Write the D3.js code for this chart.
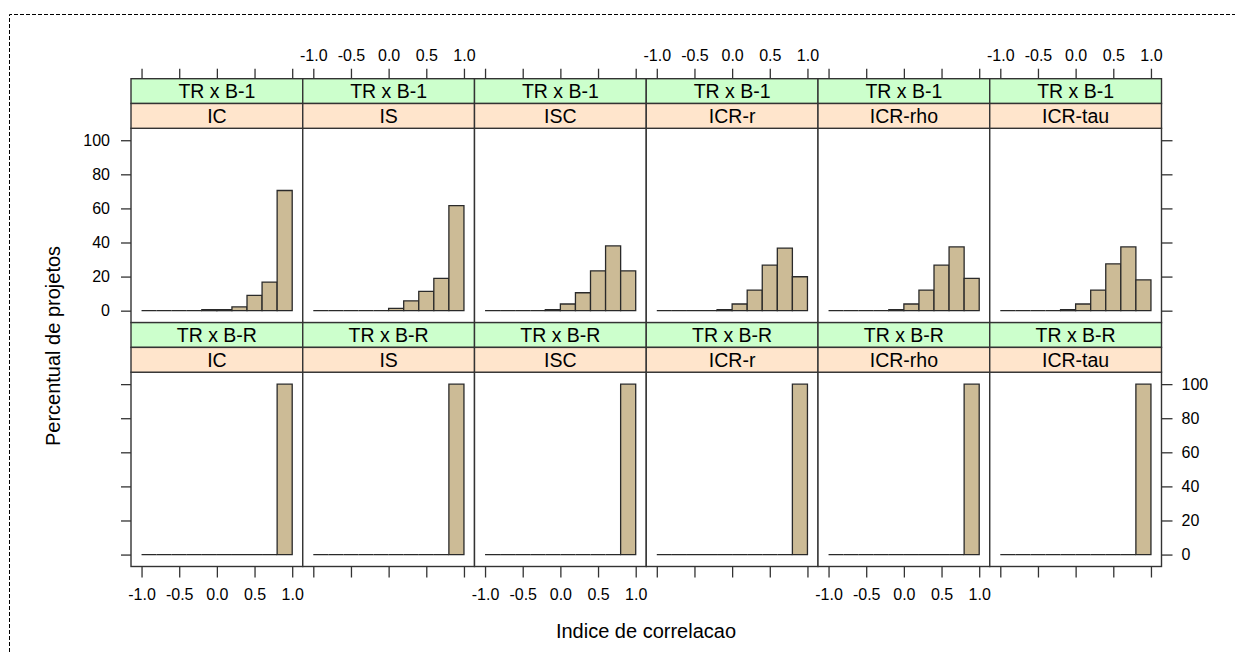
<!DOCTYPE html>
<html><head><meta charset="utf-8">
<script src="https://cdn.jsdelivr.net/npm/d3@7"></script>
<style>
body{margin:0;background:#fff;}
svg text{font-family:"Liberation Sans",Arial,sans-serif;fill:#000;}
</style>
</head><body>
<svg id="c" width="1235" height="652"></svg>
<script>
// ---------- data ----------
const breaks = [-1.0,-0.8,-0.6,-0.4,-0.2,0.0,0.2,0.4,0.6,0.8,1.0];
const comparisons = ["TR x B-1","TR x B-R"];
const indices = ["IC","IS","ISC","ICR-r","ICR-rho","ICR-tau"];
// percent of projects per bin (10 bins from -1 to 1), TR x B-1
const b1_IC     = [0,0,0,0,0.6,0.6,2.2,9.0,16.8,70.5];
const b1_IS     = [0,0,0,0,0,1.4,5.8,11.3,18.9,61.6];
const b1_ISC    = [0,0,0,0,0.6,3.9,10.5,23.4,38.0,23.4];
const b1_ICRr   = [0,0,0,0,0.6,3.9,12.1,26.7,36.7,19.9];
const b1_ICRrho = [0,0,0,0,0.6,3.9,12.1,26.7,37.4,18.9];
const b1_ICRtau = [0,0,0,0,0.6,3.9,12.1,27.5,37.4,18.1];
// TR x B-R
const bR_IC     = [0,0,0,0,0,0,0,0,0,100];
const bR_IS     = [0,0,0,0,0,0,0,0,0,100];
const bR_ISC    = [0,0,0,0,0,0,0,0,0,100];
const bR_ICRr   = [0,0,0,0,0,0,0,0,0,100];
const bR_ICRrho = [0,0,0,0,0,0,0,0,0,100];
const bR_ICRtau = [0,0,0,0,0,0,0,0,0,100];
const xTicks = [-1.0,-0.5,0.0,0.5,1.0];
const yTicks = [0,20,40,60,80,100];
const xTitle = "Indice de correlacao";
const yTitle = "Percentual de projetos";

const series = [
  [b1_IC,b1_IS,b1_ISC,b1_ICRr,b1_ICRrho,b1_ICRtau],
  [bR_IC,bR_IS,bR_ISC,bR_ICRr,bR_ICRrho,bR_ICRtau]
];

// ---------- layout ----------
const svg = d3.select("#c");
const left = 131, right = 1161.5, colW = (right-left)/6;
const stripH = 24.8, panelH = 194.3;
const rowTop = [78.7, 78.7 + 2*stripH + panelH];
const fmt = d => d.toFixed(1);

// dashed outer border
svg.append("path").attr("d","M9.5,652V14.5H1235")
  .attr("fill","none").attr("stroke","#000").attr("stroke-width",1).attr("stroke-dasharray","4,2");

const xs = indices.map((_,c)=> d3.scaleLinear().domain([-1.14,1.14]).range([left+c*colW, left+(c+1)*colW]));
const ys = comparisons.map((_,r)=> {
  const pt = rowTop[r] + 2*stripH;
  return d3.scaleLinear().domain([-7,107]).range([pt+panelH, pt]);
});

comparisons.forEach((comp,r)=>{
  const y = ys[r];
  const pTop = rowTop[r] + 2*stripH;
  indices.forEach((ind,c)=>{
    const x = xs[c];
    const x0 = left + c*colW;
    const g = svg.append("g");
    g.append("rect").attr("x",x0).attr("y",pTop).attr("width",colW).attr("height",panelH).attr("fill","#fff");
    const vals = series[r][c];
    g.selectAll("path.bar").data(vals).join("path").attr("class","bar")
      .attr("d",(v,i)=>{
        const a = x(breaks[i]), b = x(breaks[i+1]), y0 = y(0), y1 = y(v);
        return `M${a},${y0}V${y1}H${b}V${y0}Z`;
      })
      .attr("fill","#CCBB96").attr("stroke","#2a2a2a").attr("stroke-width",1.3);
    // panel border
    g.append("rect").attr("x",x0).attr("y",pTop).attr("width",colW).attr("height",panelH)
      .attr("fill","none").attr("stroke","#333").attr("stroke-width",1.4);
    // strips
    [[comp,"#CCFFCC"],[ind,"#FFE5CC"]].forEach(([lab,col],k)=>{
      const sy = rowTop[r] + k*stripH;
      g.append("rect").attr("x",x0).attr("y",sy).attr("width",colW).attr("height",stripH)
        .attr("fill",col).attr("stroke","#333").attr("stroke-width",1.4);
      g.append("text").attr("x",x0+colW/2).attr("y",sy+stripH/2+6.8)
        .attr("text-anchor","middle").attr("font-size",19.5).text(lab);
    });
  });
});

function styleAxis(g){
  g.select(".domain").remove();
  g.selectAll(".tick line").attr("stroke","#333").attr("stroke-width",1.3);
  g.selectAll(".tick text").attr("font-size",16).attr("fill","#000")
   .attr("font-family","'Liberation Sans',Arial,sans-serif");
}

// top & bottom x axes
indices.forEach((_,c)=>{
  svg.append("g").attr("transform",`translate(0,${rowTop[0]})`)
    .call(d3.axisTop(xs[c]).tickValues(xTicks).tickSize(10).tickPadding(8)
      .tickFormat(c%2===1 ? fmt : ()=>""))
    .call(styleAxis);
  svg.append("g").attr("transform",`translate(0,${rowTop[1]+2*stripH+panelH})`)
    .call(d3.axisBottom(xs[c]).tickValues(xTicks).tickSize(11).tickPadding(11)
      .tickFormat(c%2===0 ? fmt : ()=>""))
    .call(styleAxis);
});
// left & right y axes
comparisons.forEach((_,r)=>{
  svg.append("g").attr("transform",`translate(${left},0)`)
    .call(d3.axisLeft(ys[r]).tickValues(yTicks).tickSize(10).tickPadding(11)
      .tickFormat(r===0 ? d3.format("d") : ()=>""))
    .call(styleAxis);
  svg.append("g").attr("transform",`translate(${right},0)`)
    .call(d3.axisRight(ys[r]).tickValues(yTicks).tickSize(11).tickPadding(9)
      .tickFormat(r===1 ? d3.format("d") : ()=>""))
    .call(styleAxis);
});

// titles
svg.append("text").attr("x",646).attr("y",638).attr("text-anchor","middle")
  .attr("font-size",20).text(xTitle);
svg.append("text").attr("transform","translate(60,346) rotate(-90)").attr("text-anchor","middle")
  .attr("font-size",20).text(yTitle);
</script>
</body></html>
